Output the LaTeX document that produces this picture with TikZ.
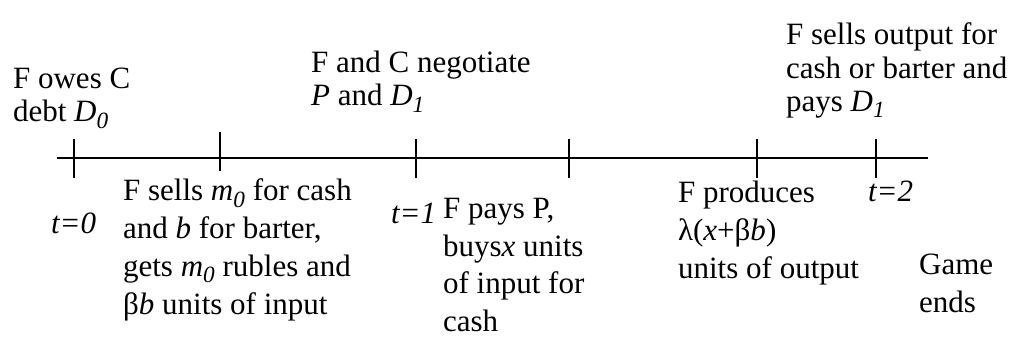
\documentclass[tikz,border=0pt]{standalone}
\usepackage{fontspec}
\setmainfont{Liberation Serif}
\usetikzlibrary{positioning}
\tikzset{
    timeline/.style={x=0.387pt, y=-0.387pt, line width=0.85pt},
    tickmark/.style={line width=0.85pt},
    event/.style={anchor=north west, align=left, inner sep=0pt},
    topevent/.style={event, font=\fontsize{12}{12.8}\selectfont},
    lowevent/.style={event, font=\fontsize{12}{14.6}\selectfont},
    % the three dates t=0, t=1, t=2
    stamp/.style={anchor=north west, inner sep=0pt, font=\fontsize{12}{14}\selectfont\itshape},
}
\newcommand{\isub}[1]{\raisebox{-0.45ex}{\fontsize{9}{9}\selectfont\itshape #1}}

\begin{document}
\begin{tikzpicture}[timeline]
    \useasboundingbox (0,0) rectangle (1010,338);

    \coordinate (start) at (57,158);
    \coordinate (stop)  at (928,158);
    \coordinate (k0) at (74,158);
    \coordinate (k1) at (220,158);
    \coordinate (k2) at (416,158);
    \coordinate (k3) at (569,158);
    \coordinate (k4) at (757,158);
    \coordinate (k5) at (876,158);

    \draw (start) -- (stop);
    \draw[tickmark] (k0) ++(0,-19) -- ++(0,39);
    \draw[tickmark] (k1) ++(0,-26) -- ++(0,39);
    \draw[tickmark] (k2) ++(0,-19) -- ++(0,39);
    \draw[tickmark] (k3) ++(0,-19) -- ++(0,39);
    \draw[tickmark] (k4) ++(0,-19) -- ++(0,39);
    \draw[tickmark] (k5) ++(0,-19) -- ++(0,39);

    % above the line
    \node[topevent] (owes)  at (12,67)  {F owes C\\debt \textit{D}\isub{0}};
    \node[topevent] (nego)  at (310,50) {F and C negotiate\\\textit{P} and \textit{D}\isub{1}};
    \node[topevent] (repay) at (785,22) {F sells output for\\cash or barter and\\pays \textit{D}\isub{1}};

    % below the line
    \node[stamp] (t0) at (50,212)  {t=0};
    \node[stamp] (t1) at (390,202) {t=1};
    \node[stamp] (t2) at (867,180) {t=2};
    \node[lowevent] (sells)   at (122,178) {F sells \textit{m}\isub{0} for cash\\and \textit{b} for barter,\\gets \textit{m}\isub{0} rubles and\\β\textit{b} units of input};
    \node[lowevent] (pays)    at (442,197) {F pays P,\\buys\textit{x} units\\of input for\\cash};
    \node[lowevent] (produce) at (677,180) {F produces\\λ(\textit{x}+β\textit{b})\\units of output};
    \node[lowevent] (game)    at (918,253) {Game\\ends};
\end{tikzpicture}
\end{document}
